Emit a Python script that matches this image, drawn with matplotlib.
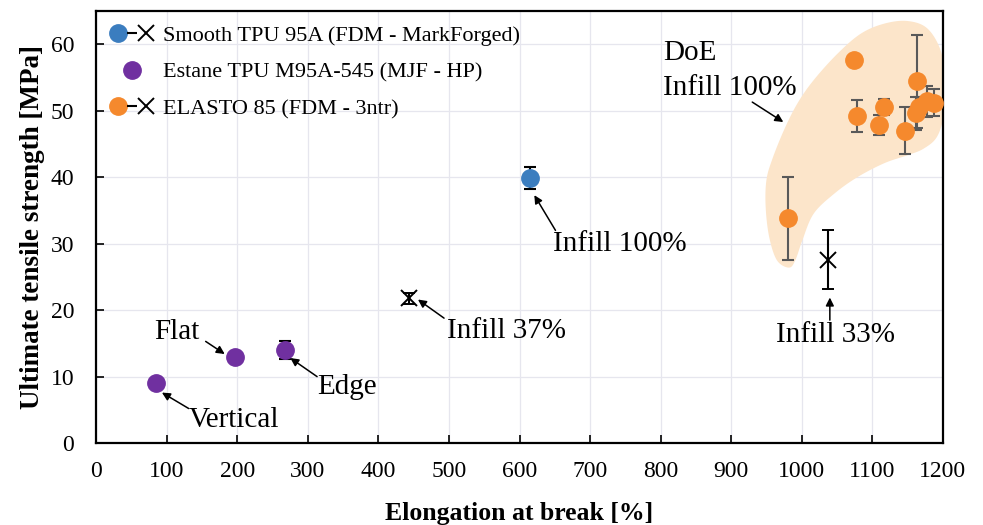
import numpy as np
import matplotlib
matplotlib.use("Agg")
import matplotlib.pyplot as plt
from matplotlib.lines import Line2D
from matplotlib.legend_handler import HandlerTuple

plt.rcParams["font.family"] = ["Liberation Serif", "DejaVu Serif"]

# Smooth TPU 95A (FDM - MarkForged)
smooth_x = [615]
smooth_y = [39.9]
smooth_err = [1.7]
smooth_x37 = [444]
smooth_y37 = [21.8]
smooth_err37 = [0.8]

# Estane TPU M95A-545 (MJF - HP)
estane_x = [84, 197, 267]
estane_y = [9.0, 13.0, 14.0]
estane_err = [0.0, 0.0, 1.4]

# ELASTO 85 (FDM - 3ntr), DoE infill 100%
elasto_x = [981, 1074, 1078, 1110, 1117, 1147, 1164, 1162, 1166, 1178, 1187]
elasto_y = [33.8, 57.6, 49.2, 47.8, 50.5, 47.0, 54.4, 49.6, 50.6, 51.4, 51.2]
elasto_err = [6.2, 0.0, 2.4, 1.5, 1.2, 3.5, 7.0, 2.5, 1.5, 2.3, 2.0]
elasto_x33 = [1038]
elasto_y33 = [27.6]
elasto_err33 = [4.4]

# outline of the shaded DoE region
blob_x = [982, 965, 954, 949, 950, 958, 975, 994, 1017, 1051, 1084, 1117, 1150,
          1178, 1197, 1204, 1202, 1192, 1173, 1150, 1117, 1079, 1046, 1017, 1001, 991]
blob_y = [26.4, 27.5, 31.0, 35.5, 39.5, 42.6, 47.1, 51.1, 54.6, 58.6, 61.6, 63.1, 63.5,
          62.4, 59.1, 54.6, 49.6, 46.1, 44.3, 43.3, 42.1, 40.0, 37.5, 34.5, 30.5, 27.5]

blue = "#3B7DBF"
purple = "#7030A0"
orange = "#F5892D"


def closed_spline(px, py, n=20):
    px = np.asarray(px, float)
    py = np.asarray(py, float)
    m = len(px)
    xs, ys = [], []
    t = np.linspace(0, 1, n, endpoint=False)
    for i in range(m):
        p0, p1, p2, p3 = [(px[(i + k) % m], py[(i + k) % m]) for k in (-1, 0, 1, 2)]
        for a, out in ((0, xs), (1, ys)):
            out.append(0.5 * (2 * p1[a] + (-p0[a] + p2[a]) * t
                              + (2 * p0[a] - 5 * p1[a] + 4 * p2[a] - p3[a]) * t ** 2
                              + (-p0[a] + 3 * p1[a] - 3 * p2[a] + p3[a]) * t ** 3))
    return np.concatenate(xs), np.concatenate(ys)


fig, ax = plt.subplots(figsize=(9.83, 5.25), dpi=100)
fig.subplots_adjust(left=0.098, right=0.959, bottom=0.156, top=0.979)

bx, by = closed_spline(blob_x, blob_y)
ax.fill(bx, by, color="#FCE5CA", zorder=1, lw=0)

ax.errorbar(elasto_x, elasto_y, yerr=elasto_err, fmt="o", color=orange,
            ecolor="#595959", elinewidth=1.5, capsize=4, capthick=1.5,
            markersize=12.5, zorder=3)
ax.errorbar(elasto_x33, elasto_y33, yerr=elasto_err33, fmt="x", color="black",
            elinewidth=1.5, capsize=4, capthick=1.5, markersize=12, mew=1.4, zorder=3)
ax.errorbar(smooth_x, smooth_y, yerr=smooth_err, fmt="o", color=blue,
            ecolor="black", elinewidth=1.5, capsize=4, capthick=1.5,
            markersize=12.5, zorder=3)
ax.errorbar(smooth_x37, smooth_y37, yerr=smooth_err37, fmt="x", color="black",
            elinewidth=1.5, capsize=4, capthick=1.5, markersize=11, mew=1.4, zorder=3)
ax.errorbar(estane_x, estane_y, yerr=estane_err, fmt="o", color=purple,
            ecolor="black", elinewidth=1.5, capsize=4, capthick=1.5,
            markersize=12.5, zorder=3)

ax.set_xlim(0, 1200)
ax.set_ylim(0, 65)
ax.set_xticks(np.arange(0, 1201, 100))
ax.set_yticks(np.arange(0, 61, 10))
ax.grid(True, color="#E6E6EE", lw=0.9, zorder=0)
ax.set_axisbelow(True)
ax.tick_params(direction="in", length=6, width=1.2, labelsize=17)
ax.tick_params(axis="x", pad=13)
ax.tick_params(axis="y", pad=16)
for s in ax.spines.values():
    s.set_linewidth(1.6)

ax.set_xlabel("Elongation at break [%]", fontsize=18.5, fontweight="bold", labelpad=14)
ax.set_ylabel("Ultimate tensile strength [MPa]", fontsize=19.5, fontweight="bold", labelpad=4)

arr = dict(arrowstyle="-|>", color="black", lw=1.1, mutation_scale=12, shrinkA=0, shrinkB=0)
fs = 21
# Estane labels
ax.text(131, 3.5, "Vertical", fontsize=fs, ha="left", va="center")
ax.annotate("", xy=(93, 7.6), xytext=(131, 5.2), arrowprops=arr)
ax.text(146, 16.7, "Flat", fontsize=fs, ha="right", va="center")
ax.annotate("", xy=(182, 13.4), xytext=(155, 15.3), arrowprops=arr)
ax.text(313, 8.4, "Edge", fontsize=fs, ha="left", va="center")
ax.annotate("", xy=(275, 12.8), xytext=(313, 10.0), arrowprops=arr)

ax.text(497, 16.8, "Infill 37%", fontsize=fs, ha="left", va="center")
ax.annotate("", xy=(456, 21.6), xytext=(493, 18.8), arrowprops=arr)
ax.text(647, 30.0, "Infill 100%", fontsize=fs, ha="left", va="center")
ax.annotate("", xy=(621, 37.3), xytext=(651, 32.0), arrowprops=arr)
ax.text(1048, 16.2, "Infill 33%", fontsize=fs, ha="center", va="center")
ax.annotate("", xy=(1040, 21.9), xytext=(1040, 18.5), arrowprops=arr)
ax.text(803, 60.6, "DoE\nInfill 100%", fontsize=fs, ha="left", va="top", linespacing=1.45)
ax.annotate("", xy=(974, 48.3), xytext=(930, 51.3), arrowprops=arr)

h_blue = (Line2D([], [], marker="o", color=blue, ls="none", markersize=12.5),
          Line2D([], [], marker="_", color="black", ls="none", markersize=7, mew=1.5),
          Line2D([], [], marker="x", color="black", ls="none", markersize=11, mew=1.4))
h_purple = Line2D([], [], marker="o", color=purple, ls="none", markersize=12.5)
h_orange = (Line2D([], [], marker="o", color=orange, ls="none", markersize=12.5),
            Line2D([], [], marker="_", color="black", ls="none", markersize=7, mew=1.5),
            Line2D([], [], marker="x", color="black", ls="none", markersize=11, mew=1.4))
ax.legend([h_blue, h_purple, h_orange],
          ["Smooth TPU 95A (FDM - MarkForged)", "Estane TPU M95A-545 (MJF - HP)",
           "ELASTO 85 (FDM - 3ntr)"],
          handler_map={tuple: HandlerTuple(ndivide=None, pad=0.0)},
          loc="upper left", bbox_to_anchor=(0.0, 1.0), frameon=False, fontsize=16,
          handlelength=1.9, handletextpad=0.45, labelspacing=0.72, borderaxespad=0.25)

fig.savefig("out.png", dpi=100)
